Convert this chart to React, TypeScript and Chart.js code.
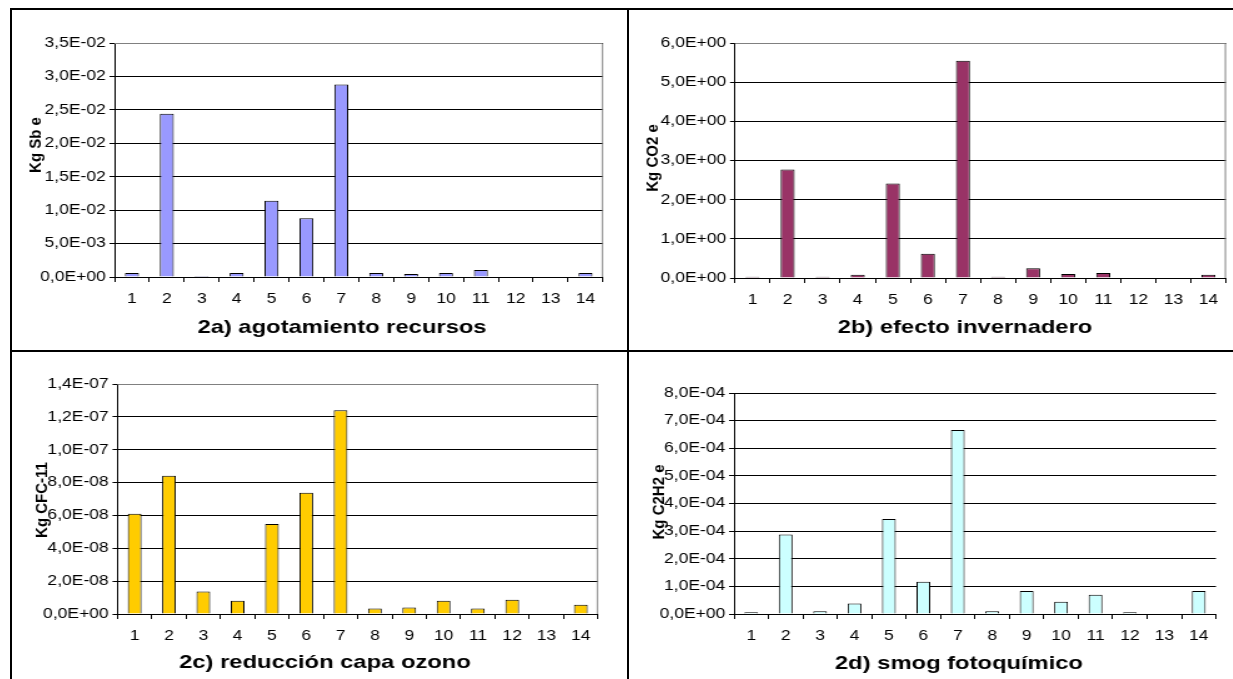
import React, { useEffect, useRef } from "react";
import { Chart, registerables } from "chart.js";

Chart.register(...registerables);

// ---- data ----
const categories = ["1", "2", "3", "4", "5", "6", "7", "8", "9", "10", "11", "12", "13", "14"];

const agotamientoRecursos = [0.0006, 0.0244, 0.00015, 0.0006, 0.0114, 0.0088, 0.0288, 0.0006, 0.00045, 0.0006, 0.00105, 0, 0, 0.0006];
const efectoInvernadero = [0.03, 2.77, 0.03, 0.08, 2.41, 0.62, 5.55, 0.03, 0.25, 0.1, 0.13, 0, 0, 0.08];
const reduccionOzono = [6.1e-8, 8.42e-8, 1.37e-8, 0.8e-8, 5.48e-8, 7.38e-8, 12.4e-8, 0.33e-8, 0.39e-8, 0.8e-8, 0.33e-8, 0.86e-8, 0, 0.57e-8];
const smogFotoquimico = [0.06e-4, 2.88e-4, 0.1e-4, 0.38e-4, 3.44e-4, 1.17e-4, 6.66e-4, 0.1e-4, 0.83e-4, 0.44e-4, 0.7e-4, 0.06e-4, 0, 0.83e-4];

const yTicksA = ["0,0E+00", "5,0E-03", "1,0E-02", "1,5E-02", "2,0E-02", "2,5E-02", "3,0E-02", "3,5E-02"];
const yTicksB = ["0,0E+00", "1,0E+00", "2,0E+00", "3,0E+00", "4,0E+00", "5,0E+00", "6,0E+00"];
const yTicksC = ["0,0E+00", "2,0E-08", "4,0E-08", "6,0E-08", "8,0E-08", "1,0E-07", "1,2E-07", "1,4E-07"];
const yTicksD = ["0,0E+00", "1,0E-04", "2,0E-04", "3,0E-04", "4,0E-04", "5,0E-04", "6,0E-04", "7,0E-04", "8,0E-04"];

const titles = ["2a) agotamiento recursos", "2b) efecto invernadero", "2c) reducción capa ozono", "2d) smog fotoquímico"];
const yTitles = ["Kg Sb e", "Kg CO2 e", "Kg CFC-11", "Kg C2H2 e"];

// ---- layout (page coordinates) ----
const S = 1.25; // horizontal stretch of the original picture
const FONT = '"Liberation Sans", Arial, Helvetica, sans-serif';
const TICK_SIZE = 14;

type PanelCfg = {
  values: number[];
  color: string;
  yMax: number;
  yStep: number;
  yLabels: string[];
  title: string;
  yTitle: string;
  cell: { x: number; y: number; w: number; h: number };
  plot: { l: number; r: number; t: number; b: number };
  titlePos: { x: number; y: number };
  yTitlePos: { x: number; y: number };
  frame: boolean;
};

const panels: PanelCfg[] = [
  {
    values: agotamientoRecursos, color: "#9999FF", yMax: 0.035, yStep: 0.005, yLabels: yTicksA,
    title: titles[0], yTitle: yTitles[0],
    cell: { x: 12, y: 10, w: 615, h: 340 },
    plot: { l: 114.5, r: 603, t: 43, b: 277 },
    titlePos: { x: 342, y: 333 }, yTitlePos: { x: 37, y: 145 }, frame: true,
  },
  {
    values: efectoInvernadero, color: "#993366", yMax: 6, yStep: 1, yLabels: yTicksB,
    title: titles[1], yTitle: yTitles[1],
    cell: { x: 629, y: 10, w: 604, h: 340 },
    plot: { l: 735, r: 1226, t: 43, b: 278 },
    titlePos: { x: 965, y: 333 }, yTitlePos: { x: 654, y: 158 }, frame: true,
  },
  {
    values: reduccionOzono, color: "#FFCC00", yMax: 1.4e-7, yStep: 2e-8, yLabels: yTicksC,
    title: titles[2], yTitle: yTitles[2],
    cell: { x: 12, y: 352, w: 615, h: 327 },
    plot: { l: 117.5, r: 598, t: 384, b: 614 },
    titlePos: { x: 325, y: 668 }, yTitlePos: { x: 43, y: 500 }, frame: true,
  },
  {
    values: smogFotoquimico, color: "#CCFFFF", yMax: 8e-4, yStep: 1e-4, yLabels: yTicksD,
    title: titles[3], yTitle: yTitles[3],
    cell: { x: 629, y: 352, w: 604, h: 327 },
    plot: { l: 734, r: 1216, t: 393, b: 614 },
    titlePos: { x: 959, y: 669 }, yTitlePos: { x: 660, y: 502 }, frame: false,
  },
];

const panelDecor = {
  id: "panelDecor",
  beforeDatasetsDraw(chart: any, _args: any, opts: any) {
    if (!opts.frame) return;
    const { ctx, chartArea } = chart;
    const { left, right, top, bottom } = chartArea;
    ctx.save();
    ctx.strokeStyle = "#808080";
    ctx.lineWidth = 1;
    ctx.beginPath();
    ctx.moveTo(left, Math.round(top) + 0.5);
    ctx.lineTo(right - 0.5, Math.round(top) + 0.5);
    ctx.lineTo(right - 0.5, bottom);
    ctx.stroke();
    ctx.restore();
  },
  afterDraw(chart: any, _args: any, opts: any) {
    const ctx = chart.ctx;
    ctx.save();
    ctx.fillStyle = "#000";
    ctx.font = `bold 19px ${FONT}`;
    ctx.textAlign = "center";
    ctx.textBaseline = "alphabetic";
    ctx.fillText(opts.title, opts.titleX, opts.titleY);
    ctx.restore();

    ctx.save();
    ctx.fillStyle = "#000";
    ctx.translate(opts.yTitleX, opts.yTitleY);
    ctx.scale(1 / S, 1);
    ctx.rotate(-Math.PI / 2);
    ctx.font = `bold 15px ${FONT}`;
    ctx.textAlign = "center";
    ctx.textBaseline = "middle";
    ctx.fillText(opts.yTitle, 0, 0);
    ctx.restore();
  },
};

function Panel({ cfg }: { cfg: PanelCfg }) {
  const ref = useRef<HTMLCanvasElement>(null);
  const cw = Math.round(cfg.cell.w / S);
  const ch = cfg.cell.h;

  useEffect(() => {
    if (!ref.current) return;
    const yAxisW = (cfg.plot.l - cfg.cell.x) / S;
    const padRight = cw - (cfg.plot.r - cfg.cell.x) / S;
    const padTop = cfg.plot.t - cfg.cell.y;
    const xAxisH = cfg.cell.y + ch - cfg.plot.b;

    const chart = new Chart(ref.current, {
      type: "bar",
      data: {
        labels: categories,
        datasets: [
          {
            data: cfg.values,
            backgroundColor: cfg.color,
            borderColor: "#000",
            borderWidth: 1,
            barPercentage: 0.4,
            categoryPercentage: 1,
          },
        ],
      },
      options: {
        responsive: false,
        animation: false,
        devicePixelRatio: 1,
        layout: { padding: { top: padTop, right: padRight, left: 0, bottom: 0 } },
        plugins: {
          legend: { display: false },
          tooltip: { enabled: false },
          panelDecor: {
            frame: cfg.frame,
            title: cfg.title,
            titleX: (cfg.titlePos.x - cfg.cell.x) / S,
            titleY: cfg.titlePos.y - cfg.cell.y,
            yTitle: cfg.yTitle,
            yTitleX: (cfg.yTitlePos.x - cfg.cell.x) / S,
            yTitleY: cfg.yTitlePos.y - cfg.cell.y,
          },
        } as any,
        scales: {
          x: {
            afterFit: (scale: any) => { scale.height = xAxisH; },
            grid: { display: true, drawOnChartArea: false, drawTicks: true, tickLength: 5, color: "#000", offset: true },
            border: { display: true, color: "#000", width: 1 },
            ticks: {
              color: "#000",
              font: { family: FONT, size: TICK_SIZE },
              padding: 9,
              autoSkip: false,
              maxRotation: 0,
              minRotation: 0,
            },
          },
          y: {
            min: 0,
            max: cfg.yMax,
            afterFit: (scale: any) => { scale.width = yAxisW; },
            grid: { display: true, drawOnChartArea: true, drawTicks: true, tickLength: 4, color: "#000", lineWidth: 1 },
            border: { display: true, color: "#000", width: 1 },
            ticks: {
              stepSize: cfg.yStep,
              color: "#000",
              font: { family: FONT, size: TICK_SIZE },
              padding: 3,
              autoSkip: false,
              callback: (_v: any, i: number) => cfg.yLabels[i] ?? "",
            },
          },
        },
      },
      plugins: [panelDecor as any],
    });
    return () => chart.destroy();
  }, []);

  return (
    <div
      style={{
        position: "absolute",
        left: cfg.cell.x,
        top: cfg.cell.y,
        width: cw,
        height: ch,
        transform: `scaleX(${S})`,
        transformOrigin: "0 0",
      }}
    >
      <canvas ref={ref} width={cw} height={ch} style={{ width: cw, height: ch, display: "block" }} />
    </div>
  );
}

export default function App() {
  const line = (l: number, t: number, w: number, h: number) => (
    <div style={{ position: "absolute", left: l, top: t, width: w, height: h, background: "#000" }} />
  );
  return (
    <div style={{ position: "absolute", left: 0, top: 0, width: 1233, height: 679, overflow: "hidden", background: "#fff" }}>
      {panels.map((p, i) => (
        <Panel key={i} cfg={p} />
      ))}
      {line(10, 8, 2, 671)}
      {line(10, 8, 1223, 2)}
      {line(627, 8, 2, 671)}
      {line(10, 350, 1223, 2)}
    </div>
  );
}
